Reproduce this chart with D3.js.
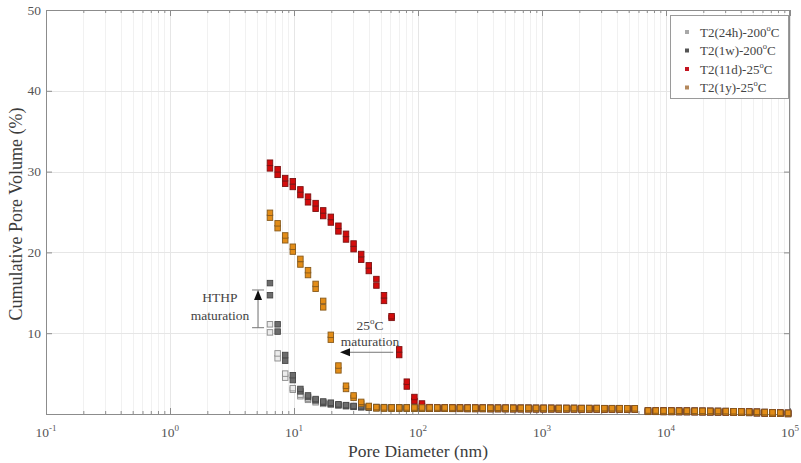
<!DOCTYPE html>
<html>
<head>
<meta charset="utf-8">
<script src="https://cdn.jsdelivr.net/npm/d3@7"></script>
<style>
  body { margin: 0; background: #fff; }
  text { font-family: "Liberation Serif", "Times New Roman", serif; }
</style>
</head>
<body>
<svg id="chart"></svg>
<script>
// pore diameters (nm) shared by every sample
var diam = [6.40, 7.38, 8.49, 9.78, 11.26, 12.97, 14.94, 17.20, 19.81, 22.81, 26.27, 30.24,
  34.83, 40.11, 46.18, 53.18, 61.24, 70.53, 81.22, 93.54, 107.7, 124.0, 142.8, 164.5, 189.4,
  218.1, 251.2, 289.3, 333.1, 383.6, 441.8, 508.7, 585.9, 674.5, 776.9, 894.5, 1030, 1186,
  1366, 1573, 1812, 2086, 2402, 2766, 3186, 3668, 4224, 4865, 5603, 7157, 8272, 9556, 11044,
  12758, 14740, 17030, 19680, 22740, 26270, 30360, 35080, 40520, 46830, 54110, 62520, 72240,
  83460, 96430];

// two repeat readings (A, B) per diameter, first 22 diameters
var t2_24hA = [11.1, 7.5, 5.0, 3.2, 2.4, 1.9, 1.6, 1.4, 1.25, 1.15, 1.05, 0.95, 0.9, 0.86, 0.85, 0.84, 0.83, 0.82, 0.82, 0.81, 0.81, 0.8];
var t2_24hB = [10.1, 6.9, 4.5, 3.0, 2.2, 1.75, 1.45, 1.25, 1.15, 1.05, 0.95, 0.88, 0.82, 0.78, 0.74, 0.72, 0.7, 0.69, 0.68, 0.67, 0.66, 0.65];
var t2_1wA = [16.2, 11.1, 7.3, 4.8, 3.1, 2.3, 1.85, 1.55, 1.4, 1.2, 1.1, 1.0, 0.95, 0.9, 0.86, 0.85, 0.84, 0.83, 0.82, 0.82, 0.81, 0.8];
var t2_1wB = [14.7, 10.2, 6.6, 4.2, 2.8, 2.1, 1.7, 1.4, 1.25, 1.1, 1.0, 0.9, 0.85, 0.8, 0.74, 0.72, 0.7, 0.69, 0.68, 0.67, 0.66, 0.65];
var t2_11dA = [31.1, 30.3, 29.2, 28.8, 27.8, 26.9, 26.1, 25.2, 24.4, 23.3, 22.3, 21.1, 19.8, 18.4, 16.7, 14.7, 12.1, 8.0, 4.0, 2.1, 1.3, 0.85];
var t2_11dB = [30.4, 29.6, 28.5, 28.1, 27.1, 26.2, 25.4, 24.5, 23.7, 22.6, 21.6, 20.4, 19.1, 17.7, 15.9, 14.0, 11.9, 7.3, 3.4, 1.6, 1.0, 0.65];
var t2_1yA = [24.9, 23.6, 22.1, 20.7, 19.2, 17.8, 16.1, 14.0, 9.8, 6.0, 3.5, 2.3, 1.5, 1.0, 0.85, 0.82, 0.81, 0.81, 0.81, 0.8, 0.8, 0.8];
var t2_1yB = [24.3, 23.0, 21.5, 20.1, 18.5, 17.2, 15.5, 13.2, 9.2, 5.4, 3.1, 2.0, 1.3, 0.85, 0.7, 0.67, 0.66, 0.66, 0.66, 0.65, 0.65, 0.65];

// large pores: all samples sit on the same plateau
var tailA = [0.8, 0.8, 0.79, 0.79, 0.78, 0.78, 0.78, 0.77, 0.77, 0.77, 0.76, 0.76, 0.76, 0.75,
  0.75, 0.75, 0.74, 0.74, 0.74, 0.73, 0.73, 0.73, 0.72, 0.72, 0.72, 0.71, 0.71,
  0.43, 0.43, 0.42, 0.42, 0.41, 0.41, 0.4, 0.39, 0.38, 0.37, 0.36, 0.34, 0.32, 0.3, 0.27,
  0.24, 0.2, 0.17, 0.14];
var tailB = [0.65, 0.65, 0.64, 0.64, 0.63, 0.63, 0.63, 0.62, 0.62, 0.62, 0.61, 0.61, 0.61, 0.6,
  0.6, 0.6, 0.59, 0.59, 0.59, 0.58, 0.58, 0.58, 0.57, 0.57, 0.57, 0.56, 0.56,
  0.27, 0.27, 0.26, 0.26, 0.25, 0.25, 0.24, 0.23, 0.22, 0.21, 0.2, 0.18, 0.16, 0.14, 0.11,
  0.08, 0.05, 0.03, 0.01];

var xTicks = [0.1, 1, 10, 100, 1000, 10000, 100000];
var xExp = ["-1", "0", "1", "2", "3", "4", "5"];
var yTicks = [10, 20, 30, 40, 50];

var series = [
  { name: "T2(24h)-200", a: t2_24hA, b: t2_24hB, fill: "#ececec", stroke: "#8a8a8a", key: "#a8a8a8" },
  { name: "T2(1w)-200", a: t2_1wA, b: t2_1wB, fill: "#6c6c6c", stroke: "#474747", key: "#555555" },
  { name: "T2(11d)-25", a: t2_11dA, b: t2_11dB, fill: "#d40c0c", stroke: "#7c1212", key: "#c41420" },
  { name: "T2(1y)-25", a: t2_1yA, b: t2_1yB, fill: "#e38d18", stroke: "#875a1c", key: "#b4885c" }
];

var width = 801, height = 463;
var pL = 46, pR = 790, pT = 10, pB = 414;

var svg = d3.select("#chart").attr("width", width).attr("height", height);

var x = d3.scaleLog().domain([0.1, 100000]).range([pL, pR]);
var y = d3.scaleLinear().domain([0, 50]).range([pB, pT]);

var minors = [];
for (var e = -1; e < 5; e++) {
  for (var m = 2; m <= 9; m++) minors.push(m * Math.pow(10, e));
}

// grid: minor lines fainter than major
var grid = svg.append("g").attr("stroke-width", 1);
grid.selectAll(".vm").data(minors).enter().append("line")
  .attr("stroke", "#f1f1f1")
  .attr("x1", d => Math.round(x(d)) + 0.5).attr("x2", d => Math.round(x(d)) + 0.5)
  .attr("y1", pT).attr("y2", pB);
grid.selectAll(".vg").data(xTicks).enter().append("line")
  .attr("stroke", "#e6e6e6")
  .attr("x1", d => Math.round(x(d)) + 0.5).attr("x2", d => Math.round(x(d)) + 0.5)
  .attr("y1", pT).attr("y2", pB);
grid.selectAll(".hg").data([10, 20, 30, 40]).enter().append("line")
  .attr("stroke", "#e6e6e6")
  .attr("x1", pL).attr("x2", pR)
  .attr("y1", d => Math.round(y(d)) + 0.5).attr("y2", d => Math.round(y(d)) + 0.5);

// axes (ticks pointing in, mirrored on top/right)
function styleAxis(g) {
  g.select(".domain").remove();
  g.selectAll("line").attr("stroke", "#8c8c8c");
  g.selectAll("text").remove();
}
svg.append("g").attr("transform", "translate(0," + pB + ")")
  .call(d3.axisBottom(x).tickValues(xTicks).tickSize(-6).tickFormat("")).call(styleAxis);
svg.append("g").attr("transform", "translate(0," + pB + ")")
  .call(d3.axisBottom(x).tickValues(minors).tickSize(-3).tickFormat("")).call(styleAxis);
svg.append("g").attr("transform", "translate(0," + pT + ")")
  .call(d3.axisTop(x).tickValues(xTicks).tickSize(-6).tickFormat("")).call(styleAxis);
svg.append("g").attr("transform", "translate(0," + pT + ")")
  .call(d3.axisTop(x).tickValues(minors).tickSize(-3).tickFormat("")).call(styleAxis);
svg.append("g").attr("transform", "translate(" + pL + ",0)")
  .call(d3.axisLeft(y).tickValues(yTicks).tickSize(-6).tickFormat("")).call(styleAxis);
svg.append("g").attr("transform", "translate(" + pR + ",0)")
  .call(d3.axisRight(y).tickValues(yTicks).tickSize(-6).tickFormat("")).call(styleAxis);

svg.append("rect").attr("x", pL + 0.5).attr("y", pT + 0.5)
  .attr("width", pR - pL - 1).attr("height", pB - pT)
  .attr("fill", "none").attr("stroke", "#8c8c8c");

// tick labels
svg.selectAll(".yl").data(yTicks).enter().append("text")
  .attr("x", pL - 5).attr("y", d => y(d) + 4.5)
  .attr("text-anchor", "end").attr("font-size", 13.5).attr("fill", "#555")
  .text(d => d);

var xl = svg.selectAll(".xl").data(xTicks).enter().append("text")
  .attr("x", d => x(d)).attr("y", 437)
  .attr("text-anchor", "middle").attr("font-size", 13.5).attr("fill", "#555");
xl.append("tspan").text("10");
xl.append("tspan").attr("dy", -6).attr("font-size", 9).text((d, i) => xExp[i]);

// axis titles
svg.append("text").attr("x", (pL + pR) / 2).attr("y", 457)
  .attr("text-anchor", "middle").attr("font-size", 17.5).attr("fill", "#3c3c3c")
  .text("Pore Diameter (nm)");
svg.append("text").attr("transform", "translate(22," + ((pT + pB) / 2 + 2) + ") rotate(-90)")
  .attr("text-anchor", "middle").attr("font-size", 18).attr("fill", "#3c3c3c")
  .text("Cumulative Pore Volume (%)");

// markers
var sz = 5.5;
var plot = svg.append("g");
series.forEach(function (s) {
  var pts = [];
  diam.forEach(function (d, i) {
    var va = i < s.a.length ? s.a[i] : tailA[i - s.a.length];
    var vb = i < s.b.length ? s.b[i] : tailB[i - s.b.length];
    pts.push({ d: d, v: vb });
    pts.push({ d: d, v: va });
  });
  plot.append("g").selectAll("rect").data(pts).enter().append("rect")
    .attr("x", p => x(p.d) - sz / 2).attr("y", p => y(p.v) - sz / 2)
    .attr("width", sz).attr("height", sz)
    .attr("fill", s.fill).attr("stroke", s.stroke).attr("stroke-width", 0.9);
});

// annotations
var ann = svg.append("g").attr("fill", "#444").attr("font-size", 13.5).attr("text-anchor", "middle");
ann.append("text").attr("x", x(2.53)).attr("y", y(14.36) + 4.5).text("HTHP");
ann.append("text").attr("x", x(2.53)).attr("y", y(12.25) + 4.5).text("maturation");
var t25 = ann.append("text").attr("x", x(41)).attr("y", y(11.0) + 4.5);
t25.append("tspan").text("25");
t25.append("tspan").attr("dy", -6).attr("font-size", 9).text("o");
t25.append("tspan").attr("dy", 6).text("C");
ann.append("text").attr("x", x(41)).attr("y", y(9.03) + 4.5).text("maturation");

// HTHP arrow (vertical)
var ax = x(5.13), ay0 = y(10.68), ay1 = y(15.35);
svg.append("line").attr("x1", ax).attr("x2", ax).attr("y1", ay0).attr("y2", ay1 + 8)
  .attr("stroke", "#777").attr("stroke-width", 1);
svg.append("line").attr("x1", ax - 6).attr("x2", ax + 6).attr("y1", ay0).attr("y2", ay0)
  .attr("stroke", "#777");
svg.append("line").attr("x1", ax - 6).attr("x2", ax + 6).attr("y1", ay1).attr("y2", ay1)
  .attr("stroke", "#777");
svg.append("path").attr("d", "M" + ax + "," + ay1 + "l-4,10h8z").attr("fill", "#111");

// 25C arrow (horizontal, pointing left)
var hx0 = x(63.2), hx1 = x(23.5), hy = y(7.64);
svg.append("line").attr("x1", hx0).attr("x2", hx1 + 8).attr("y1", hy).attr("y2", hy)
  .attr("stroke", "#777");
svg.append("path").attr("d", "M" + hx1 + "," + hy + "l10,-4v8z").attr("fill", "#111");

// legend
var lg = svg.append("g");
lg.append("rect").attr("x", 670.5).attr("y", 15.5).attr("width", 118).attr("height", 83)
  .attr("fill", "#fff").attr("stroke", "#9a9a9a");
series.forEach(function (s, i) {
  var ly = 32 + i * 18.5;
  lg.append("rect").attr("x", 685).attr("y", ly - 2).attr("width", 4).attr("height", 4)
    .attr("fill", s.key);
  var t = lg.append("text").attr("x", 700).attr("y", ly + 4.5).attr("font-size", 13).attr("fill", "#444");
  t.append("tspan").text(s.name);
  t.append("tspan").attr("dy", -6).attr("font-size", 8.5).text("o");
  t.append("tspan").attr("dy", 6).text("C");
});
</script>
</body>
</html>
